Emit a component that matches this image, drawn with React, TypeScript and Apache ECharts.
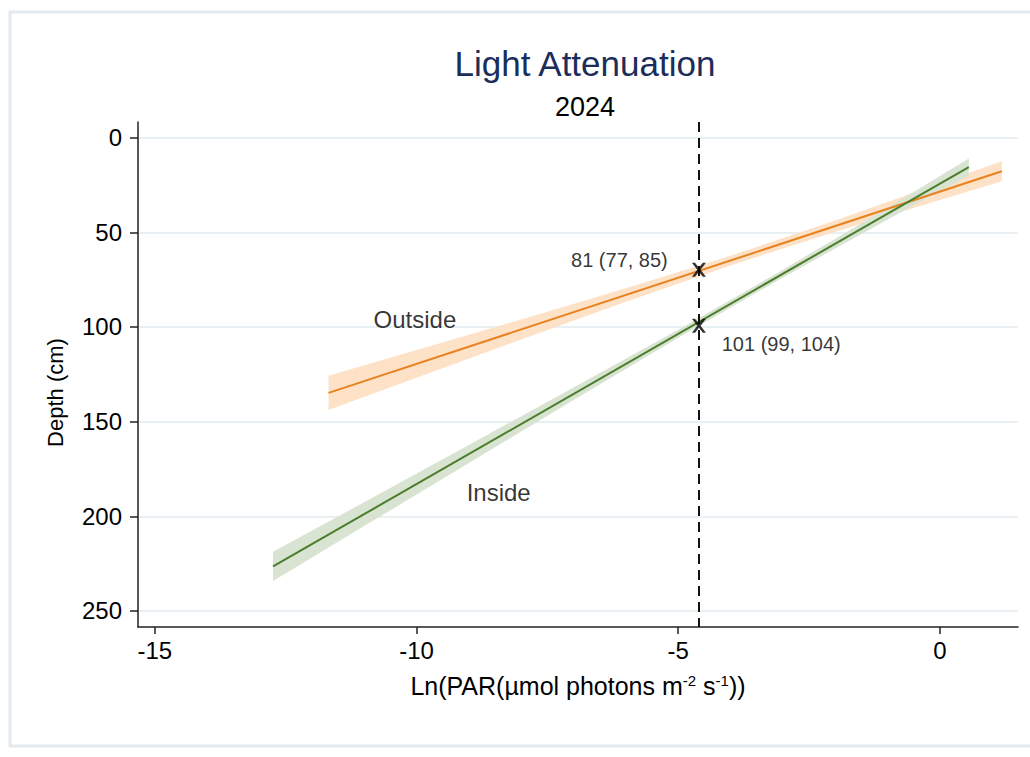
import React, { useEffect, useRef } from "react";
import * as echarts from "echarts";

// Axis ticks
const xTicks = [-15, -10, -5, 0];
const yTicks = [0, 50, 100, 150, 200, 250];

// Fitted lines (endpoints)
const outsideX = [-11.68, 1.18];
const outsideY = [134.8, 17.7];
const insideX = [-12.74, 0.55];
const insideY = [226.5, 15.5];

// Confidence bands
const outBandX = [-11.68, -10, -8, -6, -4, -2, 0, 1.18];
const outUpper = [125.8, 112.2, 96.0, 79.5, 62.3, 43.7, 24.1, 12.4];
const outLower = [143.8, 126.8, 106.6, 86.7, 67.5, 49.7, 32.9, 23.0];
const inBandX = [-12.74, -11, -9, -7, -5, -3, -1, 0.55];
const inUpper = [218.8, 192.6, 162.3, 132.0, 101.5, 69.8, 37.0, 11.0];
const inLower = [234.2, 205.2, 171.9, 138.6, 105.7, 73.8, 43.2, 20.0];

// 1% light reference and intersections
const refX = -4.605;
const markX = [-4.605, -4.605];
const markY = [69.8, 99.3];

// Annotations
const labelTexts = ["81 (77, 85)", "101 (99, 104)"];
const labelX = [-5.2, -4.17];
const labelY = [64.4, 108.8];
const groupNames = ["Outside", "Inside"];
const groupX = [-10.03, -8.43];
const groupY = [96.1, 187.6];

const FONT = "'Liberation Sans', Arial, Helvetica, sans-serif";

function bandSeries(xs: number[], up: number[], lo: number[], color: string) {
  return {
    type: "custom",
    silent: true,
    z: 1,
    data: xs.map((x, i) => [x, up[i], lo[i]]),
    encode: { x: 0, y: [1, 2] },
    renderItem: (params: any, api: any) => {
      if (params.dataIndex !== 0) return null;
      const pts: number[][] = [];
      for (let i = 0; i < xs.length; i++) pts.push(api.coord([xs[i], up[i]]));
      for (let i = xs.length - 1; i >= 0; i--) pts.push(api.coord([xs[i], lo[i]]));
      return { type: "polygon", shape: { points: pts }, style: { fill: color } };
    },
  };
}

const plainLabel = { color: "#000", fontFamily: FONT, textBorderWidth: 0, textBorderColor: "transparent" };

export default function App() {
  const ref = useRef<HTMLDivElement>(null);
  useEffect(() => {
    if (!ref.current) return;
    const chart = echarts.init(ref.current, undefined, { renderer: "svg" });
    chart.setOption({
      animation: false,
      backgroundColor: "#ffffff",
      textStyle: { fontFamily: FONT },
      graphic: [
        {
          type: "rect",
          shape: { x: 10, y: 12, width: 1030, height: 734 },
          style: { fill: "none", stroke: "#e2eaef", lineWidth: 3 },
          silent: true,
        },
      ],
      title: [
        {
          text: "Light Attenuation",
          left: 580,
          top: 41,
          textAlign: "center",
          textStyle: { fontSize: 35, fontWeight: "normal", color: "#1b2d5a", fontFamily: FONT },
        },
        {
          text: "2024",
          left: 580,
          top: 88,
          textAlign: "center",
          textStyle: { fontSize: 27, fontWeight: "normal", color: "#000", fontFamily: FONT },
        },
      ],
      grid: { left: 138, right: 12, top: 122, bottom: 130, containLabel: false },
      xAxis: {
        type: "value",
        min: -15.32,
        max: 1.49,
        name: "Ln(PAR(µmol photons m{sup|-2} s{sup|-1}))",
        nameLocation: "middle",
        nameGap: 46,
        nameTextStyle: {
          fontSize: 25,
          color: "#000",
          fontFamily: FONT,
          rich: { sup: { fontSize: 15, verticalAlign: "top", color: "#000", padding: [0, 0, 9, 0] } },
        },
        axisLine: { show: true, onZero: false, lineStyle: { color: "#222", width: 1.5 } },
        axisTick: { show: true, length: 7, customValues: xTicks, lineStyle: { color: "#222", width: 1.5 } },
        axisLabel: { customValues: xTicks, fontSize: 24, color: "#000", margin: 11, fontFamily: FONT },
        splitLine: { show: false },
      },
      yAxis: {
        type: "value",
        inverse: true,
        min: -8.3,
        max: 258.5,
        name: "Depth (cm)",
        nameLocation: "middle",
        nameGap: 72,
        nameRotate: 90,
        nameTextStyle: { fontSize: 22, color: "#000", fontFamily: FONT, padding: [0, 36, 0, 0] },
        axisLine: { show: true, onZero: false, lineStyle: { color: "#222", width: 1.5 } },
        axisTick: { show: true, length: 8, customValues: yTicks, lineStyle: { color: "#222", width: 1.5 } },
        axisLabel: { customValues: yTicks, fontSize: 24, color: "#000", margin: 16, fontFamily: FONT },
        splitLine: { show: true, lineStyle: { color: "#e0ebef", width: 1.5 } },
      },
      series: [
        bandSeries(outBandX, outUpper, outLower, "#fde2c8"),
        bandSeries(inBandX, inUpper, inLower, "#d9e3d2"),
        {
          type: "line",
          z: 3,
          data: outsideX.map((x, i) => [x, outsideY[i]]),
          symbol: "none",
          lineStyle: { color: "#e8821e", width: 2 },
          silent: true,
          markLine: {
            silent: true,
            symbol: "none",
            label: { show: false },
            lineStyle: { color: "#111", type: [10, 6], width: 2 },
            data: [{ xAxis: refX }],
          },
        },
        {
          type: "line",
          z: 3,
          data: insideX.map((x, i) => [x, insideY[i]]),
          symbol: "none",
          lineStyle: { color: "#4a7d2c", width: 2 },
          silent: true,
        },
        {
          type: "scatter",
          z: 5,
          data: markX.map((x, i) => [x, markY[i]]),
          symbol: "path://M0,0L2.2,0L5,3.6L7.8,0L10,0L6.2,5L10,10L7.8,10L5,6.4L2.2,10L0,10L3.8,5Z",
          symbolSize: 14,
          itemStyle: { color: "#000" },
          silent: true,
        },
        {
          type: "scatter",
          z: 6,
          symbolSize: 0,
          silent: true,
          itemStyle: { color: "transparent" },
          data: labelX.map((x, i) => ({
            value: [x, labelY[i]],
            label: {
              show: true,
              position: "inside",
              align: i === 0 ? "right" : "left",
              verticalAlign: "middle",
              formatter: labelTexts[i],
              fontSize: 20,
              ...plainLabel,
            },
          })),
        },
        {
          type: "scatter",
          z: 6,
          symbolSize: 0,
          silent: true,
          itemStyle: { color: "transparent" },
          data: groupX.map((x, i) => ({
            value: [x, groupY[i]],
            label: {
              show: true,
              position: "inside",
              align: "center",
              verticalAlign: "middle",
              formatter: groupNames[i],
              fontSize: 24,
              ...plainLabel,
            },
          })),
        },
      ],
    });
    return () => chart.dispose();
  }, []);
  return (
    <div
      ref={ref}
      style={{ position: "absolute", left: 0, top: 0, width: 1030, height: 757 }}
    />
  );
}
